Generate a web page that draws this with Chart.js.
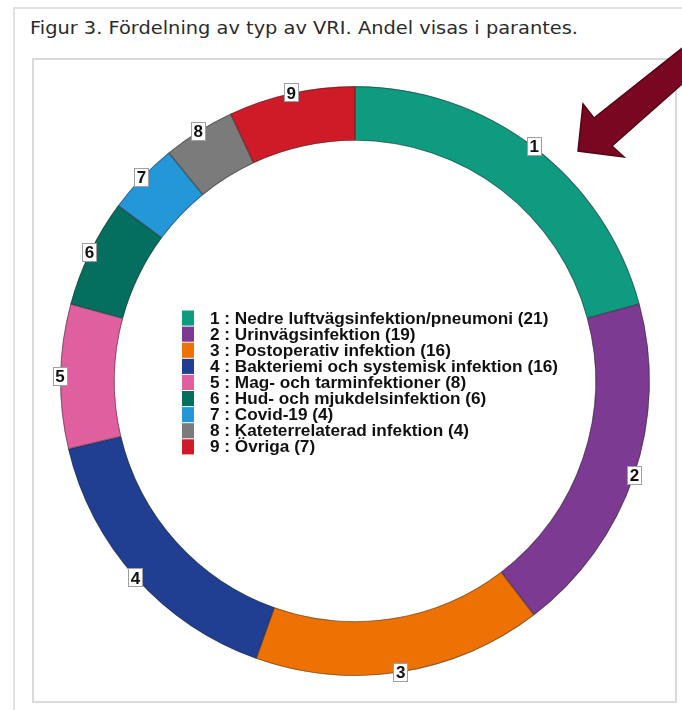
<!DOCTYPE html>
<html>
<head>
<meta charset="utf-8">
<script src="https://cdn.jsdelivr.net/npm/chart.js@4.4.1/dist/chart.umd.min.js"></script>
<style>
  html, body { margin: 0; padding: 0; background: #fff; }
  body { width: 682px; height: 710px; position: relative; overflow: hidden; }
  #pageBorder { position: absolute; left: 13px; top: 7px; width: 700px; height: 720px; border-left: 2px solid #e2e2e2; border-top: 2px solid #e2e2e2; box-sizing: border-box; }
  #frame { position: absolute; left: 32px; top: 58px; width: 645px; height: 645px; border: 2px solid #d9d9d9; box-sizing: border-box; }
  #title { position: absolute; left: 30px; top: 17px; font-family: "DejaVu Sans", sans-serif; font-size: 18px; line-height: 22px; color: #2b2b2b; white-space: nowrap; transform-origin: 0 0; }
  #c { position: absolute; left: 0; top: 0; }
  #arrow { position: absolute; left: 0; top: 0; }
</style>
</head>
<body>
<div id="pageBorder"></div>
<div id="frame"></div>
<div id="title">Figur 3. Fördelning av typ av VRI. Andel visas i parantes.</div>
<canvas id="c" width="682" height="710"></canvas>
<svg id="arrow" width="682" height="710" viewBox="0 0 682 710">
  <polygon points="578,151 583,104 594,118 700,34 700,68 612,146 624,157" fill="#7a0722" stroke="#560214" stroke-width="1.5" stroke-linejoin="miter"/>
</svg>
<script>
const categories = ['Nedre luftvägsinfektion/pneumoni', 'Urinvägsinfektion', 'Postoperativ infektion', 'Bakteriemi och systemisk infektion', 'Mag- och tarminfektioner', 'Hud- och mjukdelsinfektion', 'Covid-19', 'Kateterrelaterad infektion', 'Övriga'];
const values = [21, 19, 16, 16, 8, 6, 4, 4, 7];
const segmentNumbers = ['1', '2', '3', '4', '5', '6', '7', '8', '9'];
const colors = ['#0f9b7f', '#7d3a92', '#ee7203', '#203f92', '#e05f9f', '#046f5f', '#2497d8', '#7b7b7b', '#cf1b27'];

// fit title width
(function(){
  const t = document.getElementById('title');
  const w = t.getBoundingClientRect().width;
  t.style.transform = 'scaleX(' + (548 / w) + ')';
})();

const ringLabels = {
  id: 'ringLabels',
  afterDatasetsDraw(chart) {
    const ctx = chart.ctx;
    const meta = chart.getDatasetMeta(0);
    ctx.save();
    ctx.font = 'bold 17px "Liberation Sans", Arial, sans-serif';
    ctx.textAlign = 'center';
    ctx.textBaseline = 'middle';
    meta.data.forEach((arc, i) => {
      const p = arc.getProps(['startAngle', 'endAngle', 'outerRadius', 'x', 'y'], true);
      const a = (p.startAngle + p.endAngle) / 2;
      const lx = p.x + Math.cos(a) * p.outerRadius;
      const ly = p.y + Math.sin(a) * p.outerRadius;
      const bw = 15, bh = 19;
      ctx.fillStyle = '#fff';
      ctx.fillRect(Math.round(lx - bw / 2), Math.round(ly - bh / 2), bw, bh);
      ctx.strokeStyle = '#a0a0a0';
      ctx.lineWidth = 1;
      ctx.strokeRect(Math.round(lx - bw / 2) + 0.5, Math.round(ly - bh / 2) + 0.5, bw - 1, bh - 1);
      ctx.fillStyle = '#111';
      ctx.fillText(segmentNumbers[i], lx, ly + 1);
    });
    ctx.restore();
  }
};

const innerLegend = {
  id: 'innerLegend',
  afterDraw(chart) {
    const ctx = chart.ctx;
    ctx.save();
    const x0 = 182, y0 = 310, rowH = 16.1, sqW = 12;
    ctx.font = 'bold 17px "Liberation Sans", Arial, sans-serif';
    ctx.textBaseline = 'alphabetic';
    const texts = categories.map((c, i) => segmentNumbers[i] + ' : ' + c + ' (' + values[i] + ')');
    const maxW = Math.max(...texts.map(t => ctx.measureText(t).width));
    const sx = 348 / maxW;
    texts.forEach((t, i) => {
      const y = y0 + i * rowH;
      ctx.fillStyle = colors[i];
      ctx.fillRect(x0, y + 0.5, sqW, rowH - 1);
      ctx.save();
      ctx.translate(210, y + 13.5);
      ctx.scale(sx, 1);
      ctx.fillStyle = '#111';
      ctx.fillText(t, 0, 0);
      ctx.restore();
    });
    ctx.restore();
  }
};

new Chart(document.getElementById('c'), {
  type: 'doughnut',
  data: {
    labels: categories,
    datasets: [{
      data: values,
      backgroundColor: colors,
      borderColor: 'rgba(40,40,40,0.45)',
      borderWidth: 0.8,
      borderAlign: 'inner'
    }]
  },
  options: {
    responsive: false,
    animation: false,
    cutout: '81.4%',
    layout: { padding: { left: 60, right: 32, top: 86, bottom: 34 } },
    plugins: {
      legend: { display: false },
      tooltip: { enabled: false }
    }
  },
  plugins: [ringLabels, innerLegend]
});
</script>
</body>
</html>
